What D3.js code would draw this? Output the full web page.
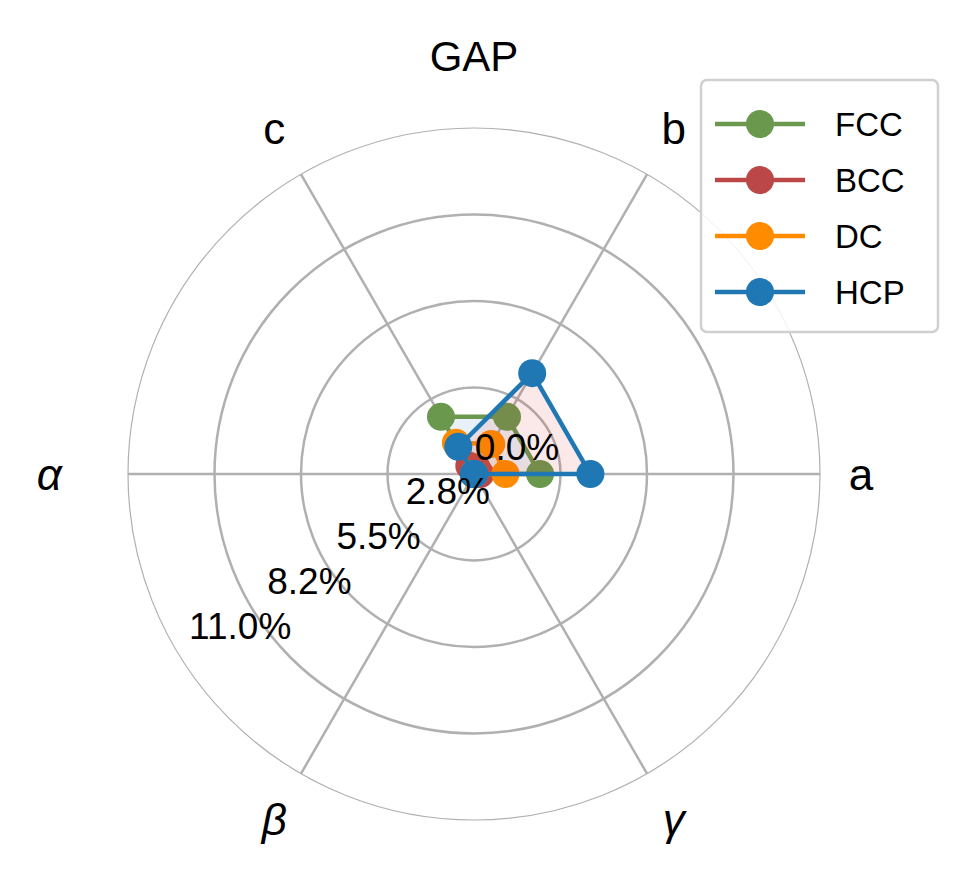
<!DOCTYPE html>
<html lang="en">
<head>
<meta charset="UTF-8">
<script src="https://d3js.org/d3.v7.min.js"></script>
<style>body{margin:0;background:#fff}text{font-family:"Liberation Sans",Arial,sans-serif}</style>
</head>
<body>
<div id="chart"></div>
<script>
  // Data
  const axesLabels = ["a", "b", "c", "α", "β", "γ"];
  const seriesNames = ["FCC", "BCC", "DC", "HCP"];
  const seriesColors = ["#6a994e", "#bc4749", "#ff8c00", "#1f77b4"];
  const fillColors = ["#1f77b4", "#bc4749", "#ff8c00", "#d62728"];
  const fccValues = [2.1, 2.1, 2.1, 0, 0, 0];
  const bccValues = [0.2, 0.2, 0.3, 0, 0, 0];
  const dcValues = [1.0, 1.1, 1.15, 0, 0, 0];
  const hcpValues = [3.7, 3.7, 1.0, 0, 0, 0];
  const allValues = [fccValues, bccValues, dcValues, hcpValues];
  const rTicks = [0, 2.75, 5.5, 8.25, 11.0];
  const rTickLabels = ["0.0%", "2.8%", "5.5%", "8.2%", "11.0%"];

  const W = 968, H = 885, cx = 474, cy = 474;
  const svg = d3.select("#chart").append("svg").attr("width", W).attr("height", H);
  const r = d3.scaleLinear().domain([0, 11]).range([0, 346]);
  const ang = d3.scaleLinear().domain([0, 6]).range([0, 2 * Math.PI]);
  const px = (i, v) => cx + r(v) * Math.cos(ang(i));
  const py = (i, v) => cy - r(v) * Math.sin(ang(i));
  const labelR = [12.3, 12.7, 12.7, 13.5, 12.7, 12.7];

  const g = svg.append("g");
  // grid circles
  rTicks.slice(1, 4).forEach(t => g.append("circle").attr("cx", cx).attr("cy", cy).attr("r", r(t))
    .attr("fill", "none").attr("stroke", "#b0b0b0").attr("stroke-width", 2.5));
  g.append("circle").attr("cx", cx).attr("cy", cy).attr("r", r(11))
    .attr("fill", "none").attr("stroke", "#b0b0b0").attr("stroke-width", 1.2);
  axesLabels.forEach((l, i) => {
    g.append("line").attr("x1", cx).attr("y1", cy).attr("x2", px(i, 11)).attr("y2", py(i, 11))
      .attr("stroke", "#b0b0b0").attr("stroke-width", 2.5);
    g.append("text").attr("x", px(i, labelR[i])).attr("y", py(i, labelR[i]))
      .attr("text-anchor", "middle").attr("dominant-baseline", "central")
      .attr("font-size", 44).attr("font-style", i >= 3 ? "italic" : "normal")
      .text(l);
  });

  const line = d3.lineRadial().angle((d, i) => Math.PI / 2 - ang(i)).radius(d => r(d)).curve(d3.curveLinearClosed);
  const plot = svg.append("g").attr("transform", `translate(${cx},${cy})`);
  allValues.forEach((vals, s) => {
    plot.append("path").attr("d", line(vals)).attr("fill", fillColors[s]).attr("fill-opacity", 0.1)
      .attr("stroke", seriesColors[s]).attr("stroke-width", 4.5).attr("stroke-linejoin", "round");
    vals.forEach((v, i) => plot.append("circle").attr("cx", px(i, v) - cx).attr("cy", py(i, v) - cy)
      .attr("r", 14).attr("fill", seriesColors[s]));
  });

  // radial tick labels
  rTicks.forEach((t, k) => svg.append("text")
    .attr("x", cx + 43 - 0.8 * r(t)).attr("y", cy - 27 + 0.52 * r(t))
    .attr("text-anchor", "middle").attr("dominant-baseline", "central")
    .attr("font-size", 37).text(rTickLabels[k]));

  svg.append("text").attr("x", cx).attr("y", 56).attr("text-anchor", "middle")
    .attr("dominant-baseline", "central").attr("font-size", 42).text("GAP");

  // legend
  const lg = svg.append("g");
  lg.append("rect").attr("x", 701).attr("y", 80).attr("width", 237).attr("height", 252).attr("rx", 6)
    .attr("fill", "#fff").attr("fill-opacity", 0.85).attr("stroke", "#d0d0d0").attr("stroke-width", 2.5);
  seriesNames.forEach((n, s) => {
    const y = 124 + s * 56;
    lg.append("line").attr("x1", 715).attr("x2", 805).attr("y1", y).attr("y2", y)
      .attr("stroke", seriesColors[s]).attr("stroke-width", 4.5);
    lg.append("circle").attr("cx", 760).attr("cy", y).attr("r", 14).attr("fill", seriesColors[s]);
    lg.append("text").attr("x", 835).attr("y", y).attr("dominant-baseline", "central")
      .attr("font-size", 33).text(n);
  });
</script>
</body>
</html>
